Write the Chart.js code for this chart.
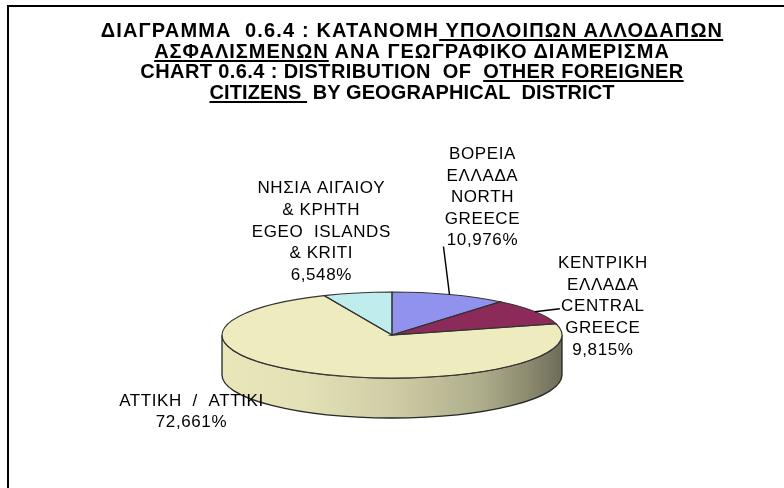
<!DOCTYPE html>
<html>
<head>
<meta charset="utf-8">
<script src="https://cdn.jsdelivr.net/npm/chart.js@4/dist/chart.umd.min.js"></script>
<style>
  html, body { margin:0; padding:0; width:784px; height:488px; overflow:hidden; background:#fff; }
  #frame { position:absolute; left:7px; top:5px; width:830px; height:540px; border:2px solid #000; box-sizing:border-box; }
  #c { position:absolute; left:0; top:0; }
  #title { position:absolute; left:9px; top:20px; width:806px; text-align:center;
           font-family:"Liberation Sans", Arial, sans-serif; font-weight:bold; font-size:20px;
           line-height:20.7px; white-space:pre; color:#000; }
  #title div { height:20.7px; }
  #title u { text-decoration-thickness:1.5px; text-underline-offset:2px; }
</style>
</head>
<body>
<div id="frame"></div>
<canvas id="c" width="784" height="520"></canvas>
<div id="title"></div>
<script>
// ---- data ----
const CATEGORIES = [
  'ΒΟΡΕΙΑ ΕΛΛΑΔΑ / NORTH GREECE',
  'ΚΕΝΤΡΙΚΗ ΕΛΛΑΔΑ / CENTRAL GREECE',
  'ΑΤΤΙΚΗ / ΑΤΤΙΚΙ',
  'ΝΗΣΙΑ ΑΙΓΑΙΟΥ & ΚΡΗΤΗ / EGEO ISLANDS & KRITI'
];
const LABEL_LINES = [
  ['ΒΟΡΕΙΑ', 'ΕΛΛΑΔΑ', 'NORTH', 'GREECE'],
  ['ΚΕΝΤΡΙΚΗ', 'ΕΛΛΑΔΑ', 'CENTRAL', 'GREECE'],
  ['ΑΤΤΙΚΗ  /  ΑΤΤΙΚΙ'],
  ['ΝΗΣΙΑ ΑΙΓΑΙΟΥ', '& ΚΡΗΤΗ', 'EGEO  ISLANDS', '& KRITI']
];
const VALUES = [10.976, 9.815, 72.661, 6.548];
const TITLE_LINES = [
  [['ΔΙΑΓΡΑΜΜΑ  0.6.4 : ΚΑΤΑΝΟΜΗ', false], [' ΥΠΟΛΟΙΠΩΝ ΑΛΛΟΔΑΠΩΝ', true]],
  [['ΑΣΦΑΛΙΣΜΕΝΩΝ', true], [' ΑΝΑ ΓΕΩΓΡΑΦΙΚΟ ΔΙΑΜΕΡΙΣΜΑ', false]],
  [['CHART 0.6.4 : DISTRIBUTION  OF  ', false], ['OTHER FOREIGNER', true]],
  [['CITIZENS ', true], [' BY GEOGRAPHICAL  DISTRICT', false]]
];

// ---- style ----
const TITLE_SPACING = [1.15, 1.0, 0.4, 0.1];
const COLORS = ['#9191EE', '#8C2B5A', '#EEECBE', '#BFEDEE'];
const TILT = 43 / 170;      // vertical squash of the pie top
const DEPTH = 40;           // thickness of the pie (px)
const SIDE_SHADE = [[0, 0.98], [0.25, 0.95], [0.5, 0.87], [0.75, 0.74], [0.9, 0.59], [1, 0.46]];
const LABEL_OFFSET = [[33, -97], [68, -5], [-127, 38], [-36, -61]];
const LEADER_END = [[-6, -48], [25, -3], null, null];
const LABEL_FONT = '17px "Liberation Sans", Arial, sans-serif';
const LINE_H = 21.6;

// title as text
const titleEl = document.getElementById('title');
titleEl.innerHTML = TITLE_LINES.map((line, i) =>
  '<div style="letter-spacing:' + TITLE_SPACING[i] + 'px">' +
  line.map(([t, u]) => u ? '<u>' + t + '</u>' : '<span>' + t + '</span>').join('') +
  '</div>'
).join('');

function hexToRgb(h) {
  const n = parseInt(h.slice(1), 16);
  return [(n >> 16) & 255, (n >> 8) & 255, n & 255];
}
function shade(h, f) {
  const [r, g, b] = hexToRgb(h);
  return 'rgb(' + Math.round(r * f) + ',' + Math.round(g * f) + ',' + Math.round(b * f) + ')';
}
function fmt(v) { return v.toFixed(3).replace('.', ',') + '%'; }

const pie3d = {
  id: 'pie3d',
  beforeDatasetsDraw(chart) {
    const ctx = chart.ctx;
    const meta = chart.getDatasetMeta(0);
    meta.data.forEach((arc, i) => {
      const {x, y, startAngle, endAngle, outerRadius: r} = arc;
      const a = Math.max(startAngle, 0), b = Math.min(endAngle, Math.PI);
      if (a >= b) return;
      const ry = r * TILT;
      ctx.save();
      const g = ctx.createLinearGradient(x - r, 0, x + r, 0);
      SIDE_SHADE.forEach(([t, f]) => g.addColorStop(t, shade(COLORS[i], f)));
      ctx.beginPath();
      ctx.ellipse(x, y, r, ry, 0, a, b);
      ctx.lineTo(x + r * Math.cos(b), y + ry * Math.sin(b) + DEPTH);
      ctx.ellipse(x, y + DEPTH, r, ry, 0, b, a, true);
      ctx.closePath();
      ctx.fillStyle = g;
      ctx.fill();
      ctx.strokeStyle = '#262626';
      ctx.lineWidth = 1.3;
      ctx.stroke();
      ctx.restore();
    });
    const c = meta.data[0];
    ctx.save();
    ctx.translate(c.x, c.y);
    ctx.scale(1, TILT);
    ctx.translate(-c.x, -c.y);
  },
  afterDatasetsDraw(chart) {
    const ctx = chart.ctx;
    ctx.restore();
    const meta = chart.getDatasetMeta(0);
    // outlines of the top face
    meta.data.forEach((arc) => {
      const {x, y, startAngle, endAngle, outerRadius: r} = arc;
      const ry = r * TILT;
      ctx.save();
      ctx.beginPath();
      ctx.moveTo(x, y);
      ctx.lineTo(x + r * Math.cos(startAngle), y + ry * Math.sin(startAngle));
      ctx.ellipse(x, y, r, ry, 0, startAngle, endAngle);
      ctx.closePath();
      ctx.strokeStyle = '#333';
      ctx.lineWidth = 1.1;
      ctx.stroke();
      ctx.restore();
    });
    // labels & leader lines
    meta.data.forEach((arc, i) => {
      const {x, y, startAngle, endAngle, outerRadius: r} = arc;
      const mid = (startAngle + endAngle) / 2;
      const ax = x + r * Math.cos(mid), ay = y + r * TILT * Math.sin(mid);
      ctx.save();
      if (LEADER_END[i]) {
        ctx.beginPath();
        ctx.moveTo(ax, ay);
        ctx.lineTo(ax + LEADER_END[i][0], ay + LEADER_END[i][1]);
        ctx.strokeStyle = '#000';
        ctx.lineWidth = 1.5;
        ctx.stroke();
      }
      const lines = LABEL_LINES[i].concat([fmt(VALUES[i])]);
      const cx = ax + LABEL_OFFSET[i][0], cy = ay + LABEL_OFFSET[i][1];
      ctx.font = LABEL_FONT;
      ctx.letterSpacing = '0.6px';
      ctx.fillStyle = '#000';
      ctx.textAlign = 'center';
      ctx.textBaseline = 'middle';
      lines.forEach((t, k) => {
        ctx.fillText(t, cx, cy + (k - (lines.length - 1) / 2) * LINE_H);
      });
      ctx.restore();
    });
  }
};

new Chart(document.getElementById('c'), {
  type: 'pie',
  data: {
    labels: CATEGORIES,
    datasets: [{ data: VALUES, backgroundColor: COLORS, borderWidth: 0, hoverOffset: 0 }]
  },
  options: {
    responsive: false,
    animation: false,
    events: [],
    layout: { padding: { top: 165, bottom: 15, left: 0, right: 0 } },
    plugins: { legend: { display: false }, tooltip: { enabled: false }, title: { display: false } }
  },
  plugins: [pie3d]
});
</script>
</body>
</html>
